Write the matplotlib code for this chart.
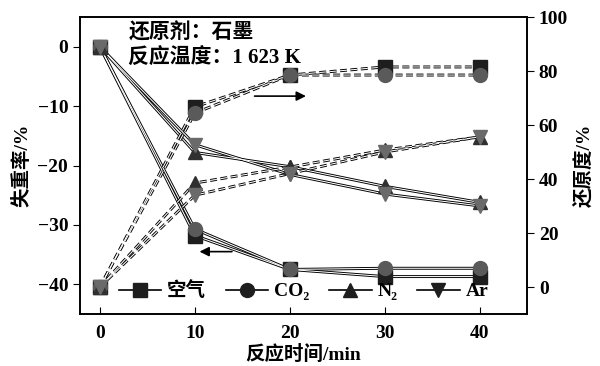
import matplotlib
matplotlib.use("Agg")
import matplotlib.pyplot as plt
from matplotlib.lines import Line2D

plt.rcParams['font.family'] = ['Liberation Serif', 'Noto Sans CJK SC']
plt.rcParams['font.weight'] = 'bold'
plt.rcParams['axes.labelweight'] = 'bold'
plt.rcParams['lines.scale_dashes'] = False

time = [0, 10, 20, 30, 40]
series = ['空气', 'CO₂', 'N₂', 'Ar']
loss_air = [0, -31.8, -37.5, -38.7, -38.7]
loss_co2 = [0, -30.7, -37.5, -37.3, -37.3]
loss_n2 = [0, -17.8, -20.2, -23.5, -26.2]
loss_ar = [0, -16.5, -21.5, -24.8, -26.8]
red_air = [0, 66.7, 78.5, 81.5, 81.5]
red_co2 = [0, 64.4, 78.5, 78.5, 78.5]
red_n2 = [0, 38.5, 44.4, 50.7, 55.6]
red_ar = [0, 34.0, 42.0, 50.0, 55.6]

markers = ['s', 'o', '^', 'v']
colors = ['#1e1e1e', '#5a5a5a', '#303030', '#6a6a6a']
losses = [loss_air, loss_co2, loss_n2, loss_ar]
reds = [red_air, red_co2, red_n2, red_ar]

fig = plt.figure(figsize=(6.0, 3.66), dpi=100)
ax = fig.add_axes([80/600, 1-314/366, (527-80)/600, (314-17)/366])
ax2 = ax.twinx()

def hollow(a, x, y, ls):
    a.plot(x, y, color='black', lw=2.1, ls=ls, zorder=2, solid_capstyle='butt', dash_capstyle='butt')
    a.plot(x, y, color='white', lw=0.75, ls=ls, zorder=2.1, solid_capstyle='butt', dash_capstyle='butt')

dash = (0, (5, 2.5))
for y in losses:
    hollow(ax, time, y, '-')
for y, m, c in zip(losses, markers, colors):
    ax.plot(time, y, ls='none', marker=m, ms=10, color=c, mec=c, zorder=3)
for y in reds:
    hollow(ax2, time, y, dash)
for y, m, c in zip(reds, markers, colors):
    ax2.plot(time, y, ls='none', marker=m, ms=10, color=c, mec=c, zorder=3)

ax.set_xlim(-2.1, 45)
ax.set_ylim(-45, 5)
ax2.set_ylim(-10, 100)
ax.set_xticks(time)
ax.set_yticks([0, -10, -20, -30, -40])
ax2.set_yticks([0, 20, 40, 60, 80, 100])
ax.tick_params(axis='x', direction='in', length=5, labelsize=14, pad=8)
ax.tick_params(axis='y', direction='out', length=5, labelsize=14)
ax2.tick_params(axis='y', direction='out', length=5, labelsize=14)
for a in (ax, ax2):
    for s in a.spines.values():
        s.set_linewidth(1.2)
ax.set_yticklabels(['0', '−10', '−20', '−30', '−40'])

ax.set_xlabel('反应时间/min', fontsize=14, labelpad=2)
ax.set_ylabel('失重率/%', fontsize=14, labelpad=4)
ax2.set_ylabel('还原度/%', fontsize=14, labelpad=4)

ax.text(3.0, 2.2, '还原剂：石墨', fontsize=15, va='center', ha='left')
ax.text(3.0, -2.0, '反应温度：1 623 K', fontsize=15, va='center', ha='left')

ax2.annotate('', xy=(22.0, 70.7), xytext=(16.0, 70.7),
             arrowprops=dict(arrowstyle='-|>', color='black', lw=1.2, mutation_scale=14))
ax.annotate('', xy=(10.2, -34.5), xytext=(14.2, -34.5),
             arrowprops=dict(arrowstyle='-|>', color='black', lw=1.2, mutation_scale=14))

handles = [Line2D([0], [0], color='black', lw=1.2, marker=m, ms=10, mfc='#1e1e1e', mec='#1e1e1e')
           for m in markers]
leg = ax2.legend(handles, series, loc='lower center', bbox_to_anchor=(0.5, 0.0), ncol=4,
                 frameon=False, fontsize=14, handlelength=2.2, columnspacing=1.0,
                 handletextpad=0.3, borderaxespad=0.3)
leg.set_zorder(5)

fig.savefig('out.png', dpi=100)
